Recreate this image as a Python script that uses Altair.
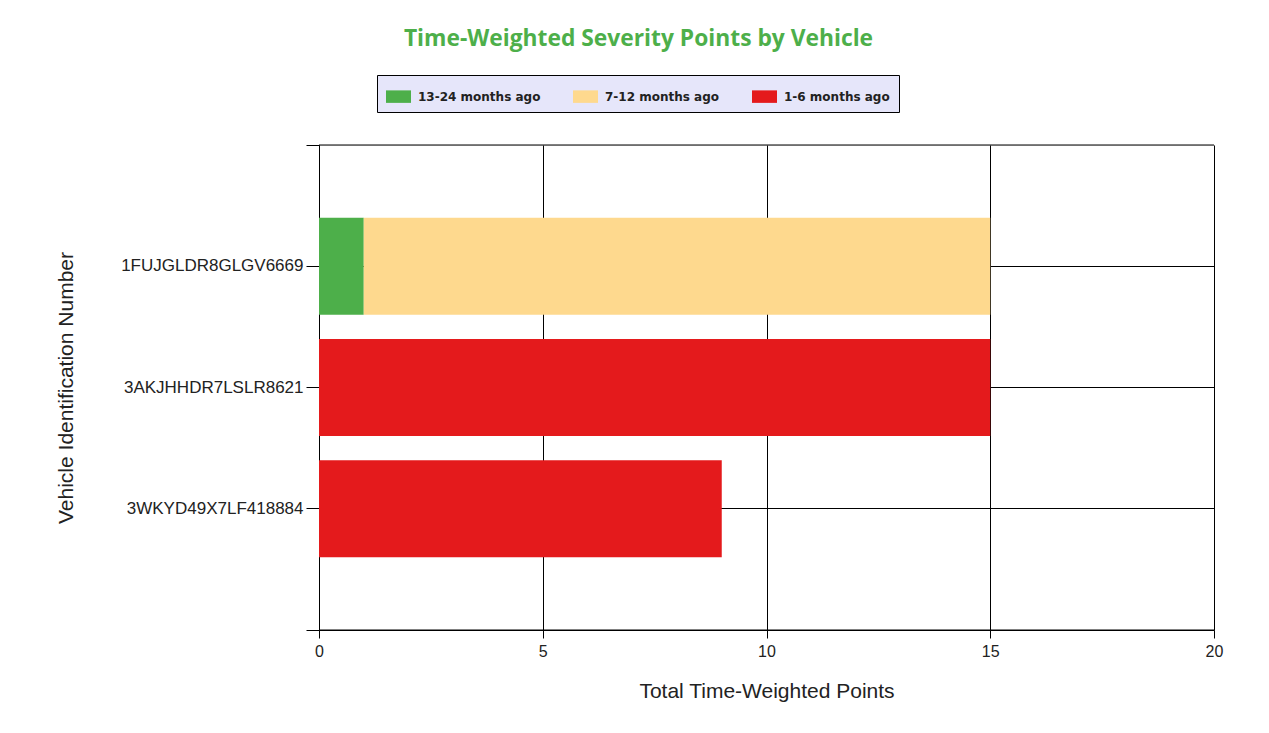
import altair as alt
import pandas as pd

vehicles = ["1FUJGLDR8GLGV6669", "3AKJHHDR7LSLR8621", "3WKYD49X7LF418884"]
periods = ["13-24 months ago", "7-12 months ago", "1-6 months ago"]
period_colors = ["#4DAF4A", "#FED98E", "#E41A1C"]
# points per vehicle, per period (same order as periods)
points_13_24 = [1, 0, 0]
points_7_12 = [14, 0, 0]
points_1_6 = [0, 15, 9]
x_ticks = [0, 5, 10, 15, 20]
edges = [0, 4]

rows = []
for i, v in enumerate(vehicles):
    for j, (p, vals) in enumerate(zip(periods, [points_13_24, points_7_12, points_1_6])):
        rows.append({"vin": v, "period": p, "order": j, "points": vals[i]})
df = pd.DataFrame(rows)
edge_df = pd.DataFrame({"edge": edges})

W, H = 895, 485

bars = alt.Chart(df).mark_bar(stroke=None).encode(
    x=alt.X("points:Q", stack="zero",
            scale=alt.Scale(domain=[0, 20], nice=False),
            axis=alt.Axis(values=x_ticks, title="Total Time-Weighted Points",
                          grid=True, gridColor="black", gridOpacity=1,
                          domainColor="black", tickColor="black", tickSize=8,
                          labelFontSize=16, labelColor="#222", labelFont="Liberation Sans",
                          labelPadding=5, labelFlush=False,
                          titleFontSize=21, titleFont="Liberation Sans",
                          titleFontWeight="normal", titleColor="#222", titlePadding=21)),
    y=alt.Y("vin:N", sort=vehicles,
            scale=alt.Scale(paddingInner=0.2, paddingOuter=0.6),
            axis=alt.Axis(title="Vehicle Identification Number", grid=True,
                          gridColor="black", gridOpacity=1, domainColor="black",
                          tickColor="black", tickSize=13, labelFontSize=17,
                          labelFont="Liberation Sans", labelColor="#222", labelPadding=3,
                          labelLimit=400,
                          titleFontSize=21, titleFont="Liberation Sans",
                          titleFontWeight="normal", titleColor="#222", titlePadding=44)),
    color=alt.Color("period:N", sort=periods,
                    scale=alt.Scale(domain=periods, range=period_colors),
                    legend=alt.Legend(title=None, orient="none", direction="horizontal",
                                      legendX=58, legendY=-70,
                                      fillColor="#E6E6FA", strokeColor="black",
                                      padding=9, symbolType="M-1,-0.5H1V0.5H-1Z",
                                      symbolSize=625, symbolStrokeWidth=0,
                                      symbolOpacity=1,
                                      labelFont="DejaVu Sans", labelFontWeight="bold",
                                      labelFontSize=12, labelColor="#222",
                                      labelOffset=7, columnPadding=32)),
    order=alt.Order("order:Q"),
)

edge_rules = alt.Chart(edge_df).mark_rule(color="black", strokeWidth=1).encode(
    y=alt.Y("edge:Q", scale=alt.Scale(domain=[0, 4], nice=False),
            axis=alt.Axis(values=edges, labels=False, title=None, domain=False,
                          grid=False, tickSize=13, tickColor="black", orient="left"))
)

chart = alt.layer(bars, edge_rules).resolve_scale(y="independent").properties(
    width=W, height=H,
    autosize=alt.AutoSizeParams(type="none"),
    padding={"left": 311, "top": 137, "right": 47, "bottom": 95},
    title=alt.TitleParams("Time-Weighted Severity Points by Vehicle",
                          font="Open Sans", fontSize=22.8, fontWeight="bold",
                          color="#4DAF4A", anchor="middle", dx=-128, offset=24),
).configure_view(stroke=None).configure(background="white")

chart.save("out.html", embed_options={"renderer": "svg", "actions": False})
